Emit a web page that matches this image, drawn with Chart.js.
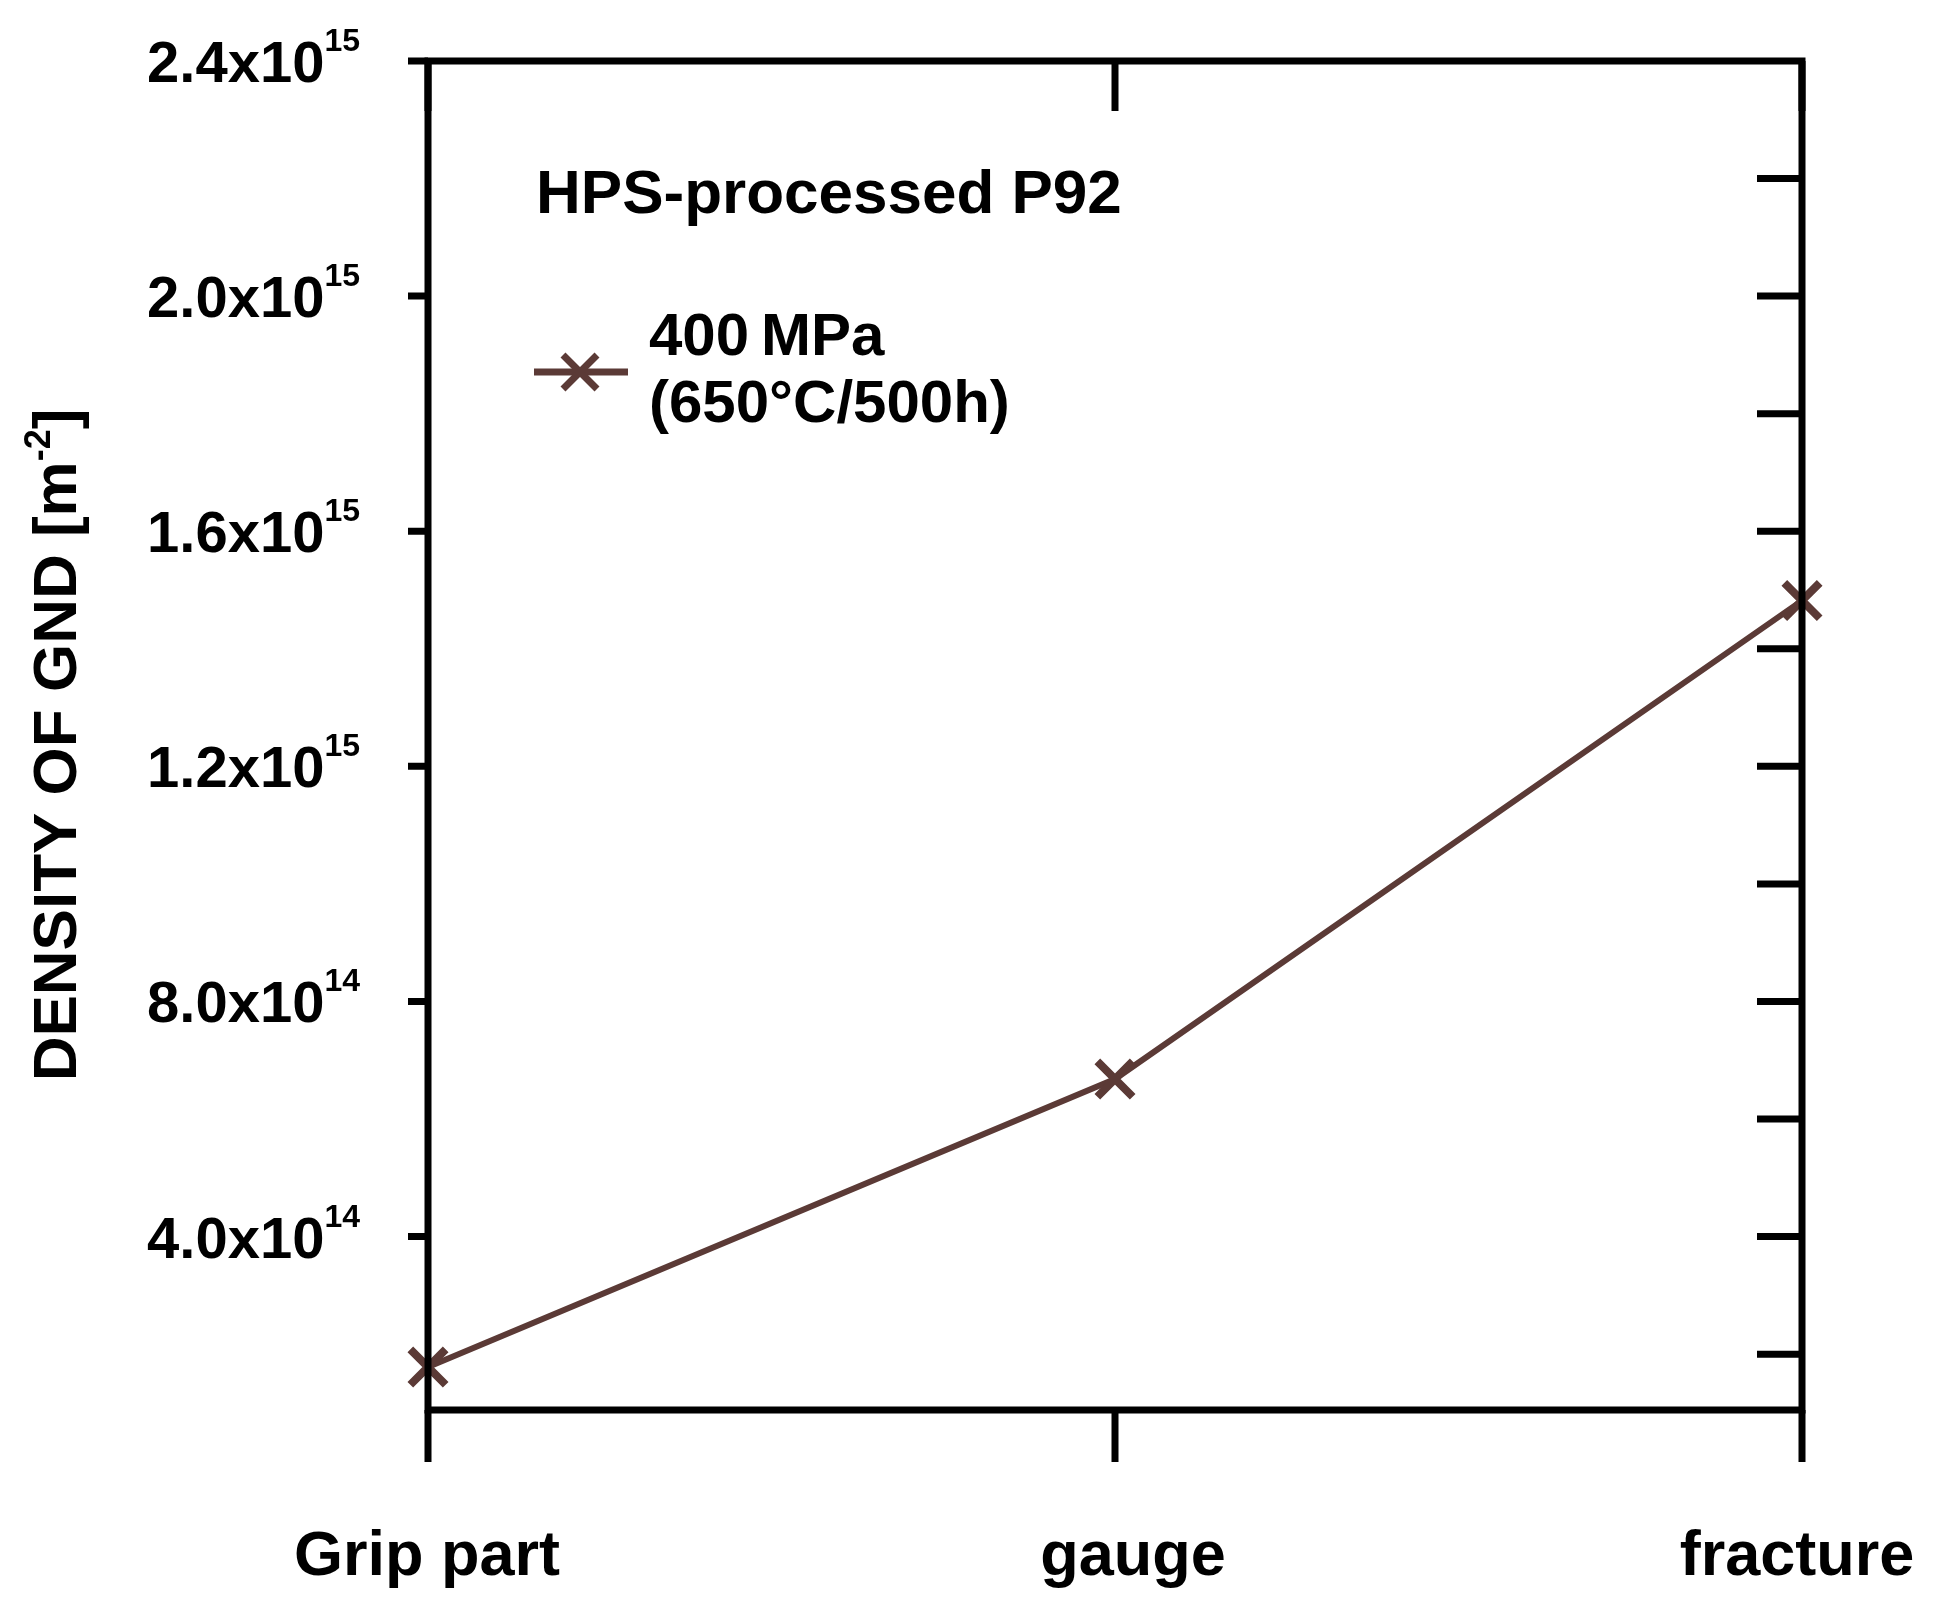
<!DOCTYPE html>
<html>
<head>
<meta charset="utf-8">
<script src="https://cdn.jsdelivr.net/npm/chart.js@4/dist/chart.umd.min.js"></script>
<style>
  html, body { margin: 0; padding: 0; background: #fff; }
  #wrap { width: 1934px; height: 1624px; }
</style>
</head>
<body>
<div id="wrap"><canvas id="c" width="1934" height="1624"></canvas></div>
<script>
// data
const categories = ['Grip part', 'gauge', 'fracture'];
const gndDensity = [1.78e14, 6.68e14, 1.482e15];
const majorTicks = [4e14, 8e14, 1.2e15, 1.6e15, 2.0e15, 2.4e15];
const majorMant = ['4.0', '8.0', '1.2', '1.6', '2.0', '2.4'];
const majorExp = ['14', '14', '15', '15', '15', '15'];
const minorTicks = [2e14, 4e14, 6e14, 8e14, 1.0e15, 1.2e15, 1.4e15, 1.6e15, 1.8e15, 2.0e15, 2.2e15];

const lineColor = '#5b3a36';
const FONT = '"Liberation Sans", Arial, sans-serif';

const framePlugin = {
  id: 'frame',
  afterDraw(chart) {
    const { ctx, chartArea: a, scales: { x, y } } = chart;
    ctx.save();
    ctx.strokeStyle = '#000';
    ctx.lineWidth = 7;
    ctx.lineCap = 'butt';
    ctx.strokeRect(a.left, a.top, a.right - a.left, a.bottom - a.top);

    ctx.beginPath();
    // left major ticks, outward
    majorTicks.forEach(v => { const py = y.getPixelForValue(v); ctx.moveTo(a.left - 20, py); ctx.lineTo(a.left, py); });
    // right ticks, inward
    minorTicks.forEach(v => { const py = y.getPixelForValue(v); ctx.moveTo(a.right - 45, py); ctx.lineTo(a.right, py); });
    // category ticks: bottom outward, top inward
    categories.forEach((c, i) => {
      const px = x.getPixelForValue(i);
      ctx.moveTo(px, a.bottom); ctx.lineTo(px, a.bottom + 52);
      ctx.moveTo(px, a.top); ctx.lineTo(px, a.top + 50);
    });
    ctx.stroke();

    ctx.fillStyle = '#000';
    // y tick labels with superscript
    majorTicks.forEach((v, i) => {
      const py = y.getPixelForValue(v);
      ctx.font = 'bold 32px ' + FONT;
      const ew = ctx.measureText(majorExp[i]).width;
      ctx.textAlign = 'right'; ctx.textBaseline = 'alphabetic';
      ctx.fillText(majorExp[i], 360, py - 10);
      ctx.font = 'bold 58px ' + FONT;
      ctx.fillText(majorMant[i] + 'x10', 360 - ew, py + 21);
    });

    // category labels
    ctx.font = 'bold 63px ' + FONT;
    ctx.textAlign = 'center';
    const catX = [427, 1133, 1797];
    categories.forEach((c, i) => ctx.fillText(c, catX[i], 1575));

    // y axis title
    ctx.save();
    ctx.translate(76, 745);
    ctx.rotate(-Math.PI / 2);
    ctx.font = 'bold 62px ' + FONT;
    ctx.textAlign = 'left';
    const t1 = 'DENSITY OF GND [m';
    const w1 = ctx.measureText(t1).width;
    ctx.font = 'bold 36px ' + FONT;
    const w2 = ctx.measureText('-2').width;
    ctx.font = 'bold 62px ' + FONT;
    const total = w1 + w2 + ctx.measureText(']').width;
    const sx = -total / 2;
    ctx.fillText(t1, sx, 0);
    ctx.font = 'bold 36px ' + FONT;
    ctx.fillText('-2', sx + w1, -26);
    ctx.font = 'bold 62px ' + FONT;
    ctx.fillText(']', sx + w1 + w2, 0);
    ctx.restore();

    // in-plot title
    ctx.textAlign = 'left'; ctx.textBaseline = 'middle';
    ctx.font = 'bold 62px ' + FONT;
    ctx.fillText('HPS-processed P92', 536, 196);

    // legend
    ctx.strokeStyle = lineColor; ctx.lineWidth = 7;
    ctx.beginPath(); ctx.moveTo(534, 372); ctx.lineTo(628, 372); ctx.stroke();
    const r = 17;
    ctx.beginPath();
    ctx.moveTo(580 - r, 372 - r); ctx.lineTo(580 + r, 372 + r);
    ctx.moveTo(580 - r, 372 + r); ctx.lineTo(580 + r, 372 - r);
    ctx.stroke();
    ctx.fillStyle = '#000';
    ctx.font = 'bold 60px ' + FONT;
    ctx.fillText('400\u2009MPa', 649, 338);
    ctx.fillText('(650\u00b0C/500h)', 649, 405);
    ctx.restore();
  }
};

new Chart(document.getElementById('c'), {
  type: 'line',
  data: {
    labels: categories,
    datasets: [{
      data: gndDensity,
      borderColor: lineColor,
      borderWidth: 6,
      pointStyle: 'crossRot',
      pointRadius: 25,
      pointBorderWidth: 8,
      pointBorderColor: lineColor,
      tension: 0
    }]
  },
  options: {
    responsive: false,
    animation: false,
    devicePixelRatio: 1,
    layout: { padding: { left: 428, right: 132, top: 61, bottom: 214 } },
    plugins: { legend: { display: false }, tooltip: { enabled: false } },
    scales: {
      x: {
        type: 'category', offset: false,
        grid: { display: false, drawTicks: false }, border: { display: false },
        ticks: { display: false }
      },
      y: {
        min: 1.05e14, max: 2.4e15,
        grid: { display: false, drawTicks: false }, border: { display: false },
        ticks: { display: false }
      }
    }
  },
  plugins: [framePlugin]
});
</script>
</body>
</html>
